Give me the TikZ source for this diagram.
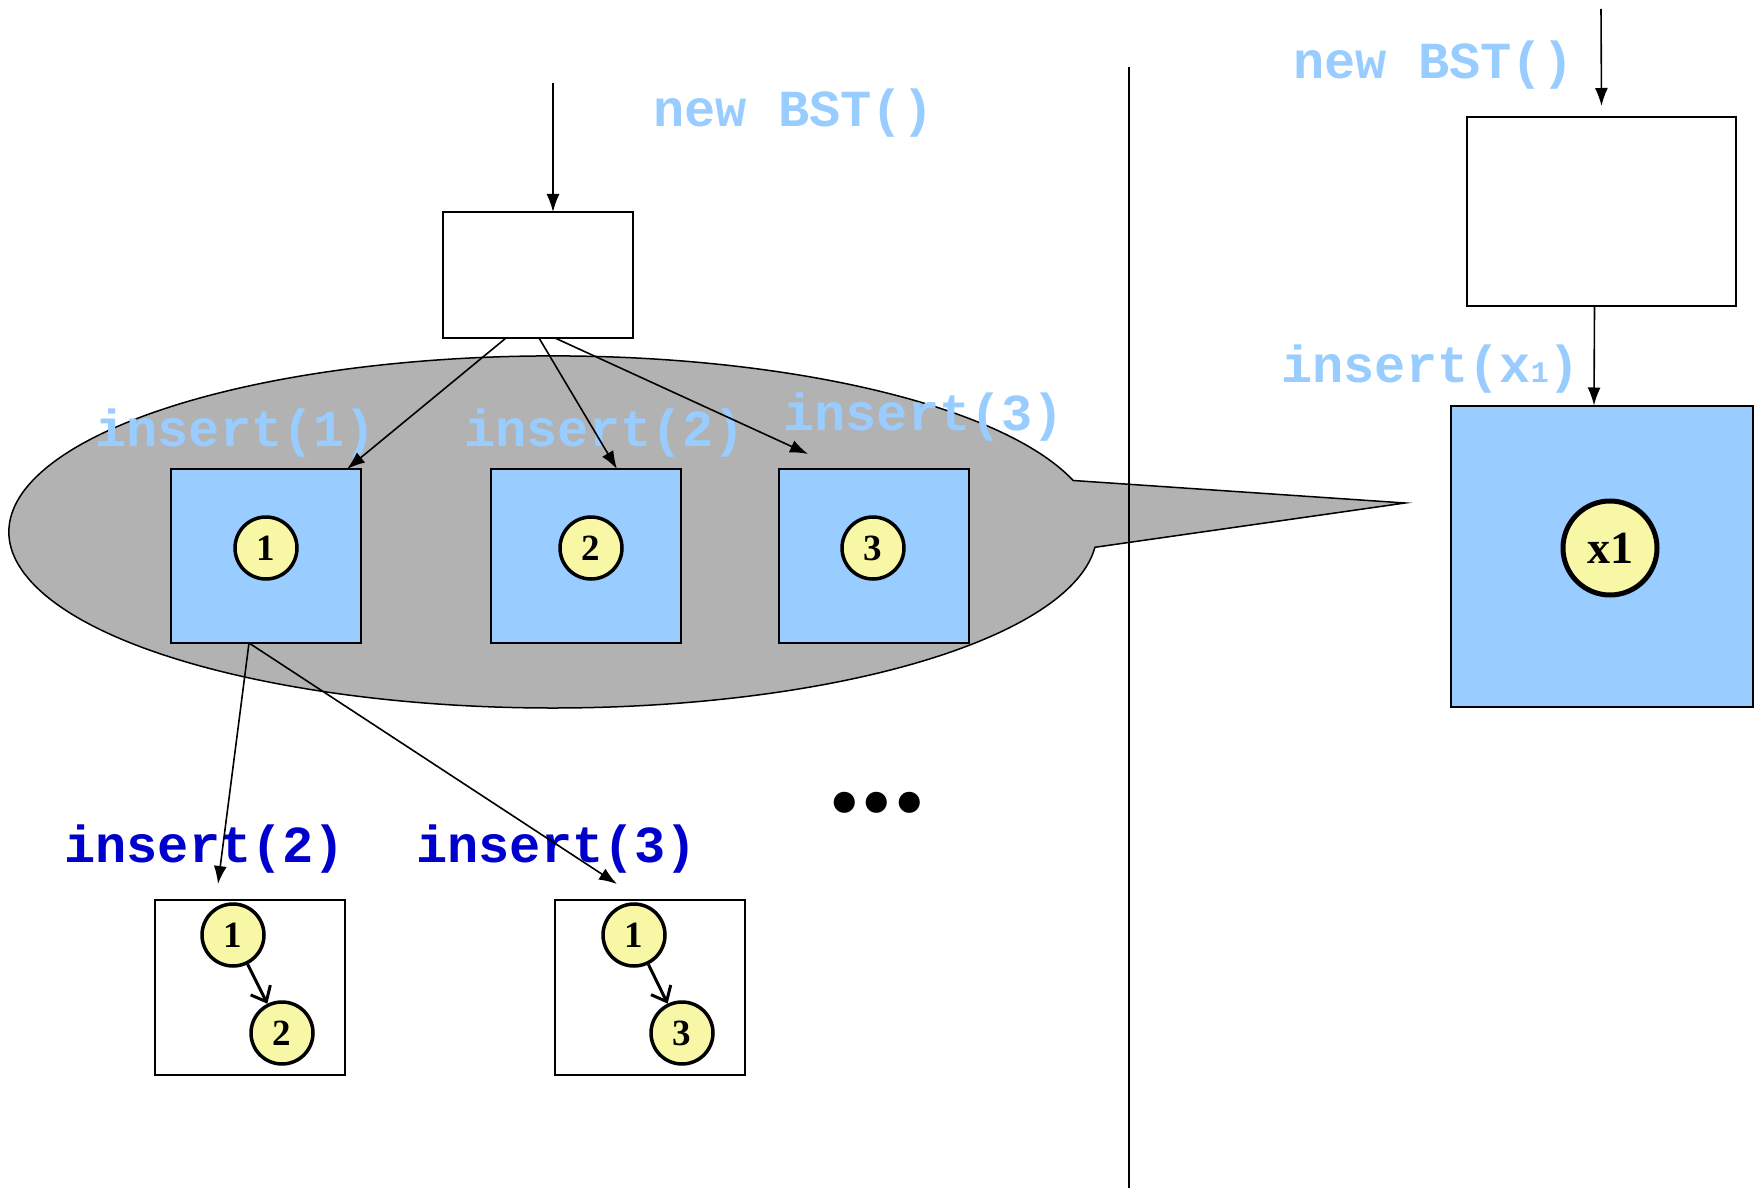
\documentclass[tikz,border=0pt]{standalone}
\usepackage{fontspec}
\setmainfont{Liberation Serif}
\setmonofont{Liberation Mono}
\usetikzlibrary{arrows.meta}

\definecolor{bubblegray}{HTML}{B2B2B2}
\definecolor{cellblue}{HTML}{99CCFF}
\definecolor{keyyellow}{HTML}{F7F7A5}
\definecolor{lightcode}{HTML}{99CCFF}
\definecolor{darkcode}{HTML}{0000CC}

\begin{document}
\begin{tikzpicture}[x=1pt, y=-1pt,
    codelbl/.style={font=\ttfamily\bfseries\fontsize{52}{52}\selectfont, text=lightcode, inner sep=0pt, anchor=base west},
    calllbl/.style={codelbl, text=darkcode},
    boxline/.style={draw, line width=2pt, inner sep=0pt, outer sep=0pt},
    emptybox/.style={boxline, fill=white},
    cell/.style={boxline, fill=cellblue},
    keynode/.style={circle, draw, line width=3.5pt, fill=keyyellow, minimum size=62pt, inner sep=0pt, font=\bfseries\fontsize{37}{37}\selectfont},
    calllink/.style={line width=1.6pt, -{Latex[length=18pt,width=13pt]}},
    treelink/.style={line width=3pt, -{Straight Barb[length=13pt,width=22pt]}}]
    \useasboundingbox (0,0) rectangle (1762,1193);

    \coordinate (tip) at (1405,503);
    \draw[fill=bubblegray, line width=1.5pt] (1073.2,480.5)
      arc[start angle=17, end angle=355, x radius=544pt, y radius=176pt] -- (tip) -- cycle;

    \coordinate (sepTop) at (1129,67);
    \coordinate (sepBot) at (1129,1188);
    \draw[line width=1.5pt] (sepTop) -- (sepBot);

    \node[codelbl] (newL) at (653,127) {new BST()};
    \node[codelbl] (ins1) at (95,446) {insert(1)};
    \node[codelbl] (ins2) at (464,446) {insert(2)};
    \node[codelbl] (ins3) at (783,430) {insert(3)};
    \node[codelbl] (newR) at (1293,79) {new BST()};
    \node[codelbl] (insX) at (1281,382) {insert(x{\fontsize{30}{30}\selectfont 1})};
    \node[calllbl] (call2) at (64,862) {insert(2)};
    \node[calllbl] (call3) at (416,862) {insert(3)};

    \node[emptybox, minimum width=190pt, minimum height=126pt] (topL) at (538,275) {};
    \node[cell, minimum width=190pt, minimum height=174pt] (b1) at (266,556) {};
    \node[cell, minimum width=190pt, minimum height=174pt] (b2) at (586,556) {};
    \node[cell, minimum width=190pt, minimum height=174pt] (b3) at (874,556) {};
    \node[keynode] (k1) at (266,548) {1};
    \node[keynode] (k2) at (591,548) {2};
    \node[keynode] (k3) at (873,548) {3};

    \node[emptybox, minimum width=269pt, minimum height=189pt] (topR) at (1601.5,211.5) {};
    \node[cell, minimum width=302pt, minimum height=301pt] (bigR) at (1602,556) {};
    \node[keynode, minimum size=94pt, line width=5pt, font=\bfseries\fontsize{46}{46}\selectfont] (kx) at (1610,548) {x1};

    \node[emptybox, minimum width=190pt, minimum height=175pt] (bA) at (250,987.5) {};
    \node[emptybox, minimum width=190pt, minimum height=175pt] (bB) at (650,987.5) {};
    \node[keynode] (a1) at (233,935) {1};
    \node[keynode] (a2) at (282,1033) {2};
    \node[keynode] (c1) at (634,935) {1};
    \node[keynode] (c3) at (682,1033) {3};

    \node[anchor=base, font=\bfseries\fontsize{130}{130}\selectfont, inner sep=0pt] (more) at (877,811) {...};

    \coordinate (inL) at (553,83);
    \coordinate (inR) at (1601,9);
    \draw[calllink] (inL) -- (inL |- topL.north);
    \draw[calllink] ([xshift=-32pt]topL.south) -- ([xshift=-14pt]b1.north east);
    \draw[calllink] ([xshift=1pt]topL.south) -- ([xshift=31pt]b2.north);
    \draw[calllink] ([xshift=17pt]topL.south) -- ([xshift=29pt,yshift=15pt]b3.north west);
    \draw[calllink] ([xshift=-17pt]b1.south) -- ([xshift=-32pt,yshift=16pt]bA.north);
    \draw[calllink] ([xshift=-17pt]b1.south) -- ([xshift=-33pt,yshift=16pt]bB.north);
    \draw[calllink] (inR) -- ([yshift=11pt]topR.north);
    \draw[calllink] ([xshift=-7pt]topR.south) -- ([xshift=-8pt]bigR.north);

    \draw[treelink] (a1) -- (a2);
    \draw[treelink] (c1) -- (c3);
  \end{tikzpicture}
\end{document}
